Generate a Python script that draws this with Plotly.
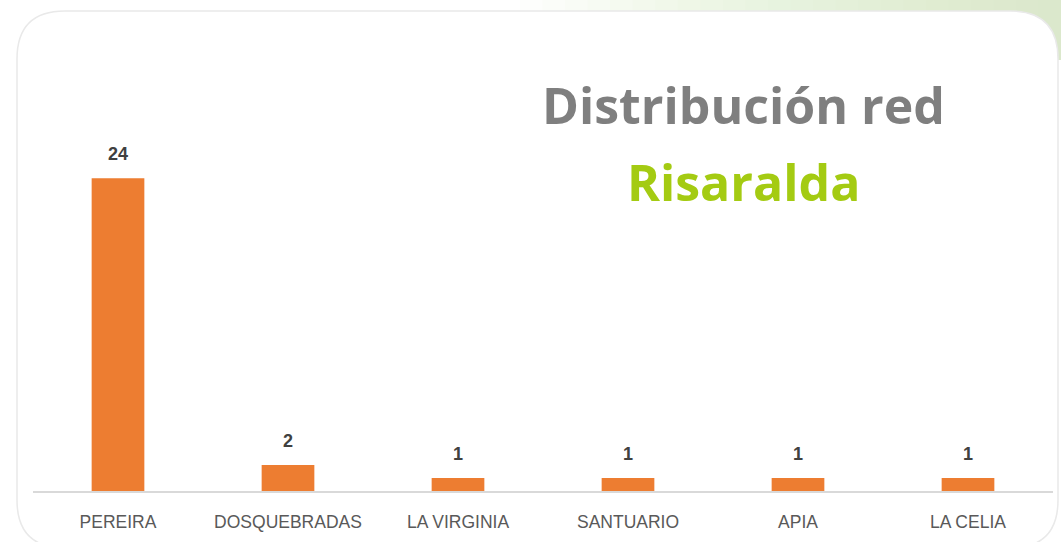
import plotly.graph_objects as go

categories = ["PEREIRA", "DOSQUEBRADAS", "LA VIRGINIA", "SANTUARIO", "APIA", "LA CELIA"]
values = [24, 2, 1, 1, 1, 1]
title_line1 = "Distribución red"
title_line2 = "Risaralda"

W, H = 1061, 542

def px(x):
    return x / W

def py(y):
    return 1 - y / H

fig = go.Figure()
fig.add_trace(go.Bar(
    x=categories, y=values,
    marker=dict(color="#ED7D31", line=dict(width=0)),
    width=0.31, hoverinfo="skip", showlegend=False,
))

for c, v in zip(categories, values):
    fig.add_annotation(x=c, y=v, xref="x", yref="y", text=f"<b>{v}</b>",
                       showarrow=False, yanchor="bottom", yshift=12,
                       font=dict(family="Liberation Sans, Arial", size=18, color="#404040"))

# card path
x0, y0, x1, y1, r = 17, 11, 1058, 548, 48
path = (f"M {px(x0+r)},{py(y0)} L {px(x1-r)},{py(y0)} Q {px(x1)},{py(y0)} {px(x1)},{py(y0+r)} "
        f"L {px(x1)},{py(y1-r)} Q {px(x1)},{py(y1)} {px(x1-r)},{py(y1)} "
        f"L {px(x0+r)},{py(y1)} Q {px(x0)},{py(y1)} {px(x0)},{py(y1-r)} "
        f"L {px(x0)},{py(y0+r)} Q {px(x0)},{py(y0)} {px(x0+r)},{py(y0)} Z")

shapes = []
# faint green gradient in top right background
n = 24
for i in range(n):
    xs = 520 + i * (541 / n)
    shapes.append(dict(type="rect", xref="paper", yref="paper", x0=px(xs), x1=1,
                       y0=py(60), y1=1, fillcolor="#DCEDB0", opacity=0.045,
                       line=dict(width=0), layer="below"))
shapes.append(dict(type="path", xref="paper", yref="paper", path=path,
                   fillcolor="#FFFFFF", line=dict(color="#E9E9E9", width=1.5), layer="below"))

fig.update_layout(
    width=W, height=H,
    margin=dict(l=0, r=0, t=0, b=0),
    paper_bgcolor="#FFFFFF", plot_bgcolor="rgba(0,0,0,0)",
    shapes=shapes,
    xaxis=dict(domain=[px(33), px(1053)], showline=True, linecolor="#D9D9D9", linewidth=1.5,
               showgrid=False, zeroline=False, ticks="", ticklabelstandoff=14,
               tickfont=dict(family="Liberation Sans Narrow, Arial Narrow, Liberation Sans", size=17.5, color="#595959")),
    yaxis=dict(domain=[py(491), py(100)], range=[0, 30], visible=False, showgrid=False, zeroline=False),
    bargap=0.69,
    annotations=list(fig.layout.annotations) + [
        dict(x=px(743), y=py(105), xref="paper", yref="paper", text=f"<b>{title_line1}</b>",
             showarrow=False, xanchor="center", yanchor="middle",
             font=dict(family="Open Sans, sans-serif", size=50, color="#7F7F7F")),
        dict(x=px(743), y=py(182), xref="paper", yref="paper", text=f"<b>{title_line2}</b>",
             showarrow=False, xanchor="center", yanchor="middle",
             font=dict(family="Open Sans, sans-serif", size=50, color="#A4CB12")),
    ],
)

fig.write_html("out.html", config={"displayModeBar": False},
               post_script="document.body.style.margin='0';document.body.style.overflow='hidden';")
